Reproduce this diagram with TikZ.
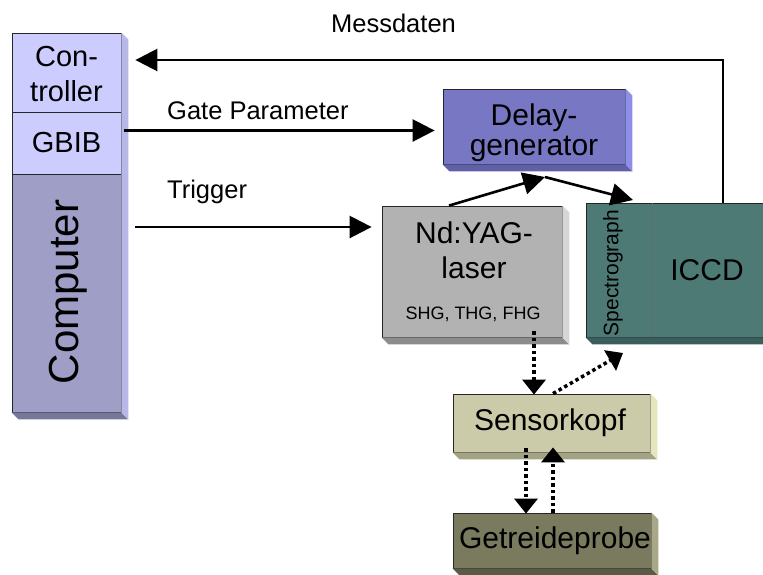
\documentclass[tikz,border=0pt]{standalone}
\usepackage{fontspec}
\setmainfont{Liberation Sans}
\usetikzlibrary{arrows.meta,calc}
\definecolor{ctrlfill}{HTML}{CCCCFF}
\definecolor{compfill}{HTML}{9E9EC6}
\definecolor{colright}{HTML}{B8B8E8}
\definecolor{colbottom}{HTML}{77779A}
\definecolor{delayfill}{HTML}{7777C4}
\definecolor{delayright}{HTML}{8E8EE6}
\definecolor{delaybottom}{HTML}{6060A8}
\definecolor{laserfill}{HTML}{B2B2B2}
\definecolor{laserright}{HTML}{D6D6D6}
\definecolor{laserbottom}{HTML}{8C8C8C}
\definecolor{specfill}{HTML}{4E7A76}
\definecolor{specbottom}{HTML}{3A5E5B}
\definecolor{sensfill}{HTML}{CBCBA9}
\definecolor{sensright}{HTML}{E6E6BE}
\definecolor{sensbottom}{HTML}{A3A386}
\definecolor{probefill}{HTML}{7A7A5E}
\definecolor{proberight}{HTML}{A8A888}
\definecolor{probebottom}{HTML}{5A5A45}
\tikzset{
  box/.style={draw=black!85, line width=0.8pt, inner sep=0pt, align=center},
  bigtxt/.style={font=\fontsize{30}{30}\selectfont},
  lbl/.style={font=\fontsize{25.5}{28}\selectfont, inner sep=0pt},
  arr/.style={line width=2.6pt, -{Triangle[length=22pt,width=22pt]}},
  dotarr/.style={line width=3.5pt, dash pattern=on 3.5pt off 3pt, -{Triangle[length=15pt,width=23pt]}}
}
\newcommand\boxshade[4]{%
  \fill[#3] (#1.south west) -- ++(7,7) -- ([shift={(7,7)}]#2.south east) -- (#2.south east) -- cycle;
  \fill[#4] (#1.north east) -- ++(7,7) -- ([shift={(7,7)}]#2.south east) -- (#2.south east) -- cycle;}
\begin{document}
\begin{tikzpicture}[x=1pt,y=-1pt]
\useasboundingbox (0,0) rectangle (763,574);
\fill[white] (0,0) rectangle (763,574);
% left column
\node[box, fill=ctrlfill, minimum width=109pt, minimum height=79pt] (ctrl) at (66.5,72.5) {};
\node[font=\fontsize{29}{35}\selectfont, align=center, anchor=base, inner sep=0pt] (ctrltxt) at (66.5,101) {Con-\\troller};
\node[box, fill=ctrlfill, minimum width=109pt, minimum height=62pt, font=\fontsize{29}{30}\selectfont] (gbib) at (66.5,143) {GBIB};
\node[box, fill=compfill, minimum width=109pt, minimum height=238pt] (comp) at (66.5,293) {};
\node[font=\fontsize{42}{44}\selectfont, rotate=90, inner sep=0pt] (comptxt) at (68,292) {Computer};
\fill[colbottom] (comp.south west) -- ++(7,7) -- ([shift={(7,7)}]comp.south east) -- (comp.south east) -- cycle;
\fill[colright] (ctrl.north east) -- ++(7,7) -- ([shift={(7,7)}]comp.south east) -- (comp.south east) -- cycle;
% delay generator
\node[box, fill=delayfill, minimum width=182pt, minimum height=75pt] (delay) at (534,126.5) {};
\node[bigtxt, align=center, inner sep=0pt, anchor=base] (delaytxt) at (534,155) {Delay-\\generator};
\boxshade{delay}{delay}{delaybottom}{delayright}
% laser
\node[box, fill=laserfill, minimum width=180pt, minimum height=131pt] (laser) at (472,271.5) {};
\boxshade{laser}{laser}{laserbottom}{laserright}
\node[bigtxt, anchor=base, inner sep=0pt] (lasert1) at (474,243) {Nd:YAG-};
\node[bigtxt, anchor=base, inner sep=0pt] (lasert2) at (474,278) {laser};
\node[font=\fontsize{18}{20}\selectfont, anchor=base, inner sep=0pt] (lasert3) at (473,319) {SHG, THG, FHG};
% spectrograph / ICCD
\node[box, fill=specfill, minimum width=189pt, minimum height=134pt] (spec) at (680.5,270) {};
\boxshade{spec}{spec}{specbottom}{specbottom}
\draw[black!60, line width=0.6pt, dash pattern=on 2pt off 1.5pt] (652,203) coordinate (dv1) -- (652,337) coordinate (dv2);
\node[font=\fontsize{21}{24}\selectfont, rotate=90, inner sep=0pt] (spectxt) at (613,273) {Spectrograph};
\node[bigtxt, inner sep=0pt] (iccd) at (707,270) {ICCD};
% Sensorkopf
\node[box, fill=sensfill, minimum width=197pt, minimum height=58pt] (sensor) at (551.5,423) {};
\boxshade{sensor}{sensor}{sensbottom}{sensright}
\node[bigtxt, inner sep=0pt] (senstxt) at (550,423) {Sensorkopf};
% Getreideprobe
\node[box, fill=probefill, minimum width=198pt, minimum height=55pt] (probe) at (552,540.5) {};
\boxshade{probe}{probe}{probebottom}{proberight}
\node[bigtxt, inner sep=0pt] (probetxt) at (555,541) {Getreideprobe};
% labels
\node[lbl, anchor=base] (messlbl) at (393.5,32) {Messdaten};
\node[lbl, anchor=base west] (gatelbl) at (167,119) {Gate Parameter};
\node[lbl, anchor=base west] (triglbl) at (167,198) {Trigger};
% connectors
\coordinate (mc) at (723,60);
\draw[line width=2.6pt, line join=miter, -{Triangle[length=22pt,width=22pt]}] (spec.north -| mc) -- (mc) -- ([xshift=14]ctrl.east |- mc);
\coordinate (gy) at (0,130.5);
\draw[arr] ([xshift=3]gbib.east |- gy) -- ([xshift=-8]delay.west |- gy);
\coordinate (ty) at (0,227);
\draw[arr] ([xshift=14]comp.east |- ty) -- ([xshift=-10]laser.west |- ty);
\coordinate (dj) at (545,177);
\coordinate (spectop) at (633,200);
\draw[arr] ([xshift=-23]laser.north) -- (dj);
\draw[arr] (dj) -- (spectop);
% dotted connectors
\coordinate (dx1) at (534,0);
\draw[dotarr] ([yshift=6]laser.south -| dx1) -- ([yshift=-1]sensor.north -| dx1);
\coordinate (specbot) at (623,353);
\draw[dotarr] ([xshift=1.5]sensor.north) -- (specbot);
\coordinate (dx2) at (526,0);
\draw[dotarr] ([yshift=4]sensor.south -| dx2) -- ([yshift=-1]probe.north -| dx2);
\coordinate (dx3) at (553,0);
\draw[dotarr] (probe.north -| dx3) -- ([yshift=5]sensor.south -| dx3);
\end{tikzpicture}
\end{document}
